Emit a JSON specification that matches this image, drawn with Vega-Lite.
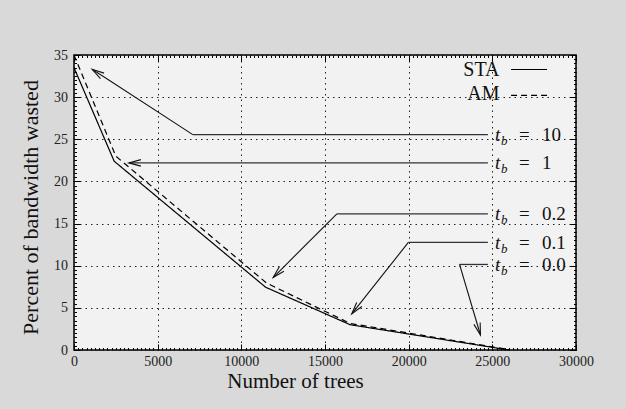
{
  "$schema": "https://vega.github.io/schema/vega-lite/v6.json",
  "width": 502,
  "height": 295,
  "autosize": {"type": "none"},
  "padding": {"left": 74, "top": 55, "right": 50, "bottom": 59},
  "background": "#d9d9d9",
  "config": {
    "font": "Liberation Serif",
    "view": {"fill": "#f2f2f2", "stroke": "#000000", "strokeWidth": 1.5}
  },
  "datasets": {
    "curves": [
      {"series": "STA", "trees": 0, "wasted": 33.5},
      {"series": "STA", "trees": 2400, "wasted": 22.4},
      {"series": "STA", "trees": 11450, "wasted": 7.45},
      {"series": "STA", "trees": 16500, "wasted": 3.0},
      {"series": "STA", "trees": 26000, "wasted": 0},
      {"series": "AM", "trees": 0, "wasted": 35},
      {"series": "AM", "trees": 2500, "wasted": 23.0},
      {"series": "AM", "trees": 11500, "wasted": 7.95},
      {"series": "AM", "trees": 16500, "wasted": 3.15},
      {"series": "AM", "trees": 26000, "wasted": 0.05}
    ],
    "arrows": [
      {"tb": "10", "xl": 24735, "ly": 25.55, "xk": 7100, "xt": 1088, "yt": 33.3, "dir": 212.9},
      {"tb": "1", "xl": 24735, "ly": 22.2, "xk": 3280, "xt": 3280, "yt": 22.2, "dir": 180},
      {"tb": "0.2", "xl": 24735, "ly": 16.16, "xk": 15710, "xt": 11900, "yt": 8.6, "dir": 135},
      {"tb": "0.1", "xl": 24735, "ly": 12.76, "xk": 19980, "xt": 16600, "yt": 4.28, "dir": 128.5},
      {"tb": "0.0", "xl": 24735, "ly": 10.15, "xk": 23040, "xt": 24290, "yt": 1.78, "dir": 73.5}
    ],
    "key": [
      {"series": "STA"}
    ]
  },
  "resolve": {"axis": {"x": "independent", "y": "independent"}},
  "layer": [
    {
      "data": {"name": "curves"},
      "mark": {"type": "line", "color": "#000000", "strokeWidth": 1.2},
      "encoding": {
        "x": {
          "field": "trees", "type": "quantitative",
          "scale": {"domain": [0, 30000], "nice": false, "zero": false},
          "axis": {
            "orient": "bottom",
            "values": [0, 5000, 10000, 15000, 20000, 25000, 30000],
            "format": "d",
            "labelFont": "Liberation Serif", "labelFontSize": 14, "labelColor": "#222222",
            "labelFlush": false, "labelOverlap": false, "labelBound": false,
            "labelPadding": 10,
            "tickSize": -6, "tickColor": "#000000", "tickWidth": 1,
            "domain": false,
            "grid": true, "gridColor": "#222222", "gridDash": [1.5, 4], "gridWidth": 1, "gridOpacity": 1,
            "title": "Number of trees",
            "titleFont": "Liberation Serif", "titleFontSize": 21, "titleFontWeight": "normal", "titleColor": "#111111",
            "titleX": 221, "titleY": 37.5, "titleAlign": "center", "titleBaseline": "alphabetic"
          }
        },
        "y": {
          "field": "wasted", "type": "quantitative",
          "scale": {"domain": [0, 35], "nice": false, "zero": false},
          "axis": {
            "orient": "left",
            "values": [0, 5, 10, 15, 20, 25, 30, 35],
            "labelFont": "Liberation Serif", "labelFontSize": 14, "labelColor": "#222222",
            "labelFlush": false, "labelOverlap": false, "labelBound": false,
            "labelPadding": 12.5,
            "tickSize": -6, "tickColor": "#000000", "tickWidth": 1,
            "domain": false,
            "grid": true, "gridColor": "#222222", "gridDash": [1.5, 4], "gridWidth": 1, "gridOpacity": 1,
            "title": "Percent of bandwidth wasted",
            "titleFont": "Liberation Serif", "titleFontSize": 22, "titleFontWeight": "normal", "titleColor": "#111111",
            "titleX": -37, "titleY": 152, "titleAngle": 270, "titleAlign": "center", "titleBaseline": "alphabetic"
          }
        },
        "strokeDash": {
          "field": "series", "type": "nominal",
          "scale": {"domain": ["STA", "AM"], "range": [[1, 0], [6, 4]]},
          "legend": null
        }
      }
    },
    {
      "data": {"name": "arrows"},
      "mark": {"type": "rule", "color": "#333333", "strokeWidth": 1.3},
      "encoding": {
        "x": {
          "field": "xk", "type": "quantitative",
          "scale": {"domain": [0, 30000], "nice": false, "zero": false},
          "axis": {
            "orient": "bottom",
            "values": [0,250,500,750,1000,1250,1500,1750,2000,2250,2500,2750,3000,3250,3500,3750,4000,4250,4500,4750,5000,5250,5500,5750,6000,6250,6500,6750,7000,7250,7500,7750,8000,8250,8500,8750,9000,9250,9500,9750,10000,10250,10500,10750,11000,11250,11500,11750,12000,12250,12500,12750,13000,13250,13500,13750,14000,14250,14500,14750,15000,15250,15500,15750,16000,16250,16500,16750,17000,17250,17500,17750,18000,18250,18500,18750,19000,19250,19500,19750,20000,20250,20500,20750,21000,21250,21500,21750,22000,22250,22500,22750,23000,23250,23500,23750,24000,24250,24500,24750,25000,25250,25500,25750,26000,26250,26500,26750,27000,27250,27500,27750,28000,28250,28500,28750,29000,29250,29500,29750,30000],
            "labels": false, "domain": false, "grid": false, "title": null,
            "tickSize": -2.5, "tickColor": "#000000", "tickWidth": 1
          }
        },
        "x2": {"field": "xl"},
        "y": {
          "field": "ly", "type": "quantitative",
          "scale": {"domain": [0, 35], "nice": false, "zero": false},
          "axis": {
            "orient": "left",
            "values": [0,0.5,1,1.5,2,2.5,3,3.5,4,4.5,5,5.5,6,6.5,7,7.5,8,8.5,9,9.5,10,10.5,11,11.5,12,12.5,13,13.5,14,14.5,15,15.5,16,16.5,17,17.5,18,18.5,19,19.5,20,20.5,21,21.5,22,22.5,23,23.5,24,24.5,25,25.5,26,26.5,27,27.5,28,28.5,29,29.5,30,30.5,31,31.5,32,32.5,33,33.5,34,34.5,35],
            "labels": false, "domain": false, "grid": false, "title": null,
            "tickSize": -2.5, "tickColor": "#000000", "tickWidth": 1
          }
        }
      }
    },
    {
      "data": {"name": "arrows"},
      "mark": {"type": "rule", "color": "#111111", "strokeWidth": 1.1},
      "encoding": {
        "x": {
          "field": "xk", "type": "quantitative",
          "scale": {"domain": [0, 30000], "nice": false, "zero": false},
          "axis": {
            "orient": "top",
            "values": [0, 5000, 10000, 15000, 20000, 25000, 30000],
            "labels": false, "domain": false, "grid": false, "title": null,
            "tickSize": -6, "tickColor": "#000000", "tickWidth": 1
          }
        },
        "x2": {"field": "xt"},
        "y": {
          "field": "ly", "type": "quantitative",
          "scale": {"domain": [0, 35], "nice": false, "zero": false},
          "axis": {
            "orient": "right",
            "values": [0, 5, 10, 15, 20, 25, 30, 35],
            "labels": false, "domain": false, "grid": false, "title": null,
            "tickSize": -6, "tickColor": "#000000", "tickWidth": 1
          }
        },
        "y2": {"field": "yt"}
      }
    },
    {
      "data": {"name": "arrows"},
      "mark": {
        "type": "point",
        "shape": "M-1,-0.27L0,0L-1,0.27",
        "filled": false,
        "stroke": "#111111",
        "strokeWidth": 1.1,
        "size": 576,
        "opacity": 1
      },
      "encoding": {
        "x": {
          "field": "xt", "type": "quantitative",
          "scale": {"domain": [0, 30000], "nice": false, "zero": false},
          "axis": {
            "orient": "top",
            "values": [0,250,500,750,1000,1250,1500,1750,2000,2250,2500,2750,3000,3250,3500,3750,4000,4250,4500,4750,5000,5250,5500,5750,6000,6250,6500,6750,7000,7250,7500,7750,8000,8250,8500,8750,9000,9250,9500,9750,10000,10250,10500,10750,11000,11250,11500,11750,12000,12250,12500,12750,13000,13250,13500,13750,14000,14250,14500,14750,15000,15250,15500,15750,16000,16250,16500,16750,17000,17250,17500,17750,18000,18250,18500,18750,19000,19250,19500,19750,20000,20250,20500,20750,21000,21250,21500,21750,22000,22250,22500,22750,23000,23250,23500,23750,24000,24250,24500,24750,25000,25250,25500,25750,26000,26250,26500,26750,27000,27250,27500,27750,28000,28250,28500,28750,29000,29250,29500,29750,30000],
            "labels": false, "domain": false, "grid": false, "title": null,
            "tickSize": -2.5, "tickColor": "#000000", "tickWidth": 1
          }
        },
        "y": {
          "field": "yt", "type": "quantitative",
          "scale": {"domain": [0, 35], "nice": false, "zero": false},
          "axis": {
            "orient": "right",
            "values": [0,0.5,1,1.5,2,2.5,3,3.5,4,4.5,5,5.5,6,6.5,7,7.5,8,8.5,9,9.5,10,10.5,11,11.5,12,12.5,13,13.5,14,14.5,15,15.5,16,16.5,17,17.5,18,18.5,19,19.5,20,20.5,21,21.5,22,22.5,23,23.5,24,24.5,25,25.5,26,26.5,27,27.5,28,28.5,29,29.5,30,30.5,31,31.5,32,32.5,33,33.5,34,34.5,35],
            "labels": false, "domain": false, "grid": false, "title": null,
            "tickSize": -2.5, "tickColor": "#000000", "tickWidth": 1
          }
        },
        "angle": {"field": "dir", "type": "quantitative", "scale": null}
      }
    },
    {
      "data": {"name": "arrows"},
      "mark": {"type": "text", "text": "t", "font": "Liberation Serif", "fontStyle": "italic", "fontSize": 19, "color": "#111111", "align": "left", "baseline": "alphabetic", "dx": 7, "dy": 6.5},
      "encoding": {
        "x": {"field": "xl", "type": "quantitative", "axis": null},
        "y": {"field": "ly", "type": "quantitative", "axis": null}
      }
    },
    {
      "data": {"name": "arrows"},
      "mark": {"type": "text", "text": "b", "font": "Liberation Serif", "fontStyle": "italic", "fontSize": 13, "color": "#111111", "align": "left", "baseline": "alphabetic", "dx": 13, "dy": 10.5},
      "encoding": {
        "x": {"field": "xl", "type": "quantitative", "axis": null},
        "y": {"field": "ly", "type": "quantitative", "axis": null}
      }
    },
    {
      "data": {"name": "arrows"},
      "mark": {"type": "text", "text": "=", "font": "Liberation Serif", "fontSize": 19, "color": "#111111", "align": "left", "baseline": "alphabetic", "dx": 31, "dy": 6.5},
      "encoding": {
        "x": {"field": "xl", "type": "quantitative", "axis": null},
        "y": {"field": "ly", "type": "quantitative", "axis": null}
      }
    },
    {
      "data": {"name": "arrows"},
      "mark": {"type": "text", "font": "Liberation Serif", "fontSize": 19, "color": "#111111", "align": "left", "baseline": "alphabetic", "dx": 54, "dy": 6.5},
      "encoding": {
        "x": {"field": "xl", "type": "quantitative", "axis": null},
        "y": {"field": "ly", "type": "quantitative", "axis": null},
        "text": {"field": "tb", "type": "nominal"}
      }
    },
    {
      "data": {"name": "key"},
      "mark": {"type": "text", "text": "STA", "font": "Liberation Serif", "fontSize": 20, "color": "#111111", "align": "right", "baseline": "alphabetic"},
      "encoding": {
        "x": {"datum": 25430, "type": "quantitative", "axis": null},
        "y": {"datum": 32.5, "type": "quantitative", "axis": null}
      }
    },
    {
      "data": {"name": "key"},
      "mark": {"type": "text", "text": "AM", "font": "Liberation Serif", "fontSize": 20, "color": "#111111", "align": "right", "baseline": "alphabetic"},
      "encoding": {
        "x": {"datum": 25430, "type": "quantitative", "axis": null},
        "y": {"datum": 29.7, "type": "quantitative", "axis": null}
      }
    },
    {
      "data": {"name": "key"},
      "mark": {"type": "rule", "color": "#000000", "strokeWidth": 1.2},
      "encoding": {
        "x": {"datum": 26120, "type": "quantitative", "axis": null},
        "x2": {"datum": 28270},
        "y": {"datum": 33.28, "type": "quantitative", "axis": null}
      }
    },
    {
      "data": {"name": "key"},
      "mark": {"type": "rule", "color": "#000000", "strokeWidth": 1.2, "strokeDash": [6, 4]},
      "encoding": {
        "x": {"datum": 26120, "type": "quantitative", "axis": null},
        "x2": {"datum": 28270},
        "y": {"datum": 30.2, "type": "quantitative", "axis": null}
      }
    }
  ]
}
